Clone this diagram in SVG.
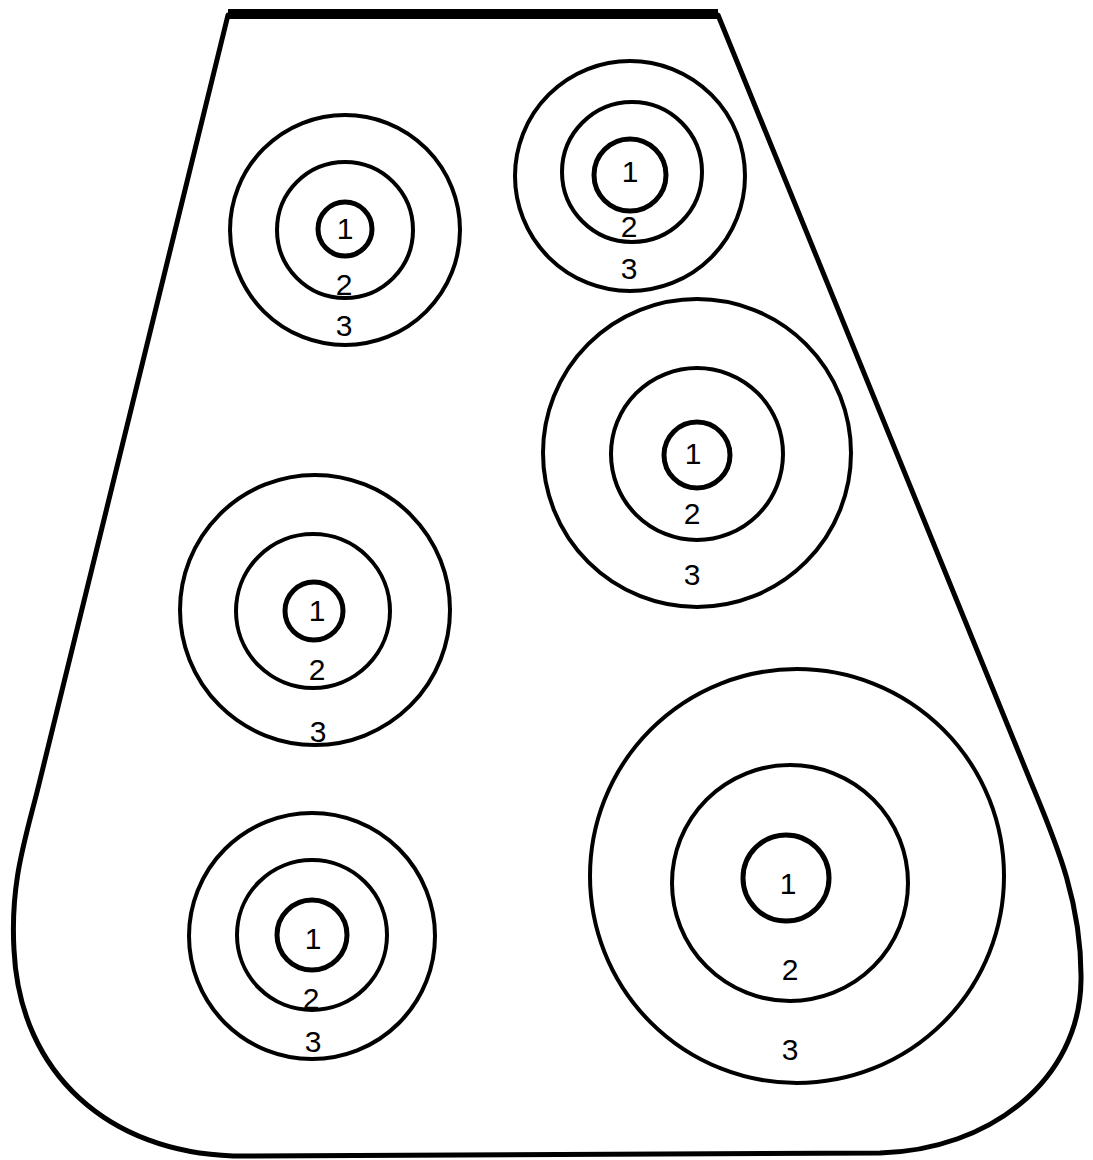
<svg xmlns="http://www.w3.org/2000/svg" width="1093" height="1160" viewBox="0 0 1093 1160">
<style>
.ring{fill:none;stroke:#000;stroke-width:4}
.core{fill:none;stroke:#000;stroke-width:5}
.outline{fill:none;stroke:#000;stroke-width:5;stroke-linejoin:round}
.lbl{font-family:"Liberation Sans","DejaVu Sans",sans-serif;font-size:30px;fill:#000;text-anchor:middle}
</style>
<rect x="0" y="0" width="1093" height="1160" fill="#fff"/>
<g id="plate">
<path class="outline" d="M228,15 L718,15 L1030,780 C1054,838 1082,900 1081,980 C1080,1080 990,1150 880,1153 L233,1156 C110,1152 20,1075 14,950 C10,880 26,838 40,780 Z"/>
<line x1="228" y1="14" x2="718" y2="14" stroke="#000" stroke-width="10"/>
</g>
<g id="target-a">
<circle class="ring" cx="345" cy="230" r="115"/>
<circle class="ring" cx="345" cy="230" r="68"/>
<circle class="core" cx="345" cy="229" r="27"/>
<text class="lbl" x="345" y="239">1</text>
<text class="lbl" x="344" y="295">2</text>
<text class="lbl" x="344" y="336">3</text>
</g>
<g id="target-b">
<circle class="ring" cx="630" cy="176" r="115"/>
<circle class="ring" cx="632" cy="172" r="70"/>
<circle class="core" cx="630" cy="175" r="36"/>
<text class="lbl" x="630" y="182">1</text>
<text class="lbl" x="629" y="237">2</text>
<text class="lbl" x="629" y="279">3</text>
</g>
<g id="target-c">
<circle class="ring" cx="697" cy="453" r="154"/>
<circle class="ring" cx="697" cy="454" r="86"/>
<circle class="core" cx="697" cy="455" r="33"/>
<text class="lbl" x="693" y="464">1</text>
<text class="lbl" x="692" y="524">2</text>
<text class="lbl" x="692" y="585">3</text>
</g>
<g id="target-d">
<circle class="ring" cx="315" cy="610" r="135"/>
<circle class="ring" cx="313" cy="611" r="77"/>
<circle class="core" cx="314" cy="611" r="29"/>
<text class="lbl" x="317" y="621">1</text>
<text class="lbl" x="317" y="680">2</text>
<text class="lbl" x="318" y="742">3</text>
</g>
<g id="target-e">
<circle class="ring" cx="312" cy="936" r="123"/>
<circle class="ring" cx="312" cy="935" r="75"/>
<circle class="core" cx="312" cy="935" r="35"/>
<text class="lbl" x="313" y="949">1</text>
<text class="lbl" x="311" y="1009">2</text>
<text class="lbl" x="313" y="1052">3</text>
</g>
<g id="target-f">
<circle class="ring" cx="797" cy="876" r="207"/>
<circle class="ring" cx="790" cy="883" r="118"/>
<circle class="core" cx="786" cy="878" r="43"/>
<text class="lbl" x="788" y="894">1</text>
<text class="lbl" x="790" y="980">2</text>
<text class="lbl" x="790" y="1060">3</text>
</g>
<g id="connectors"></g>
</svg>
